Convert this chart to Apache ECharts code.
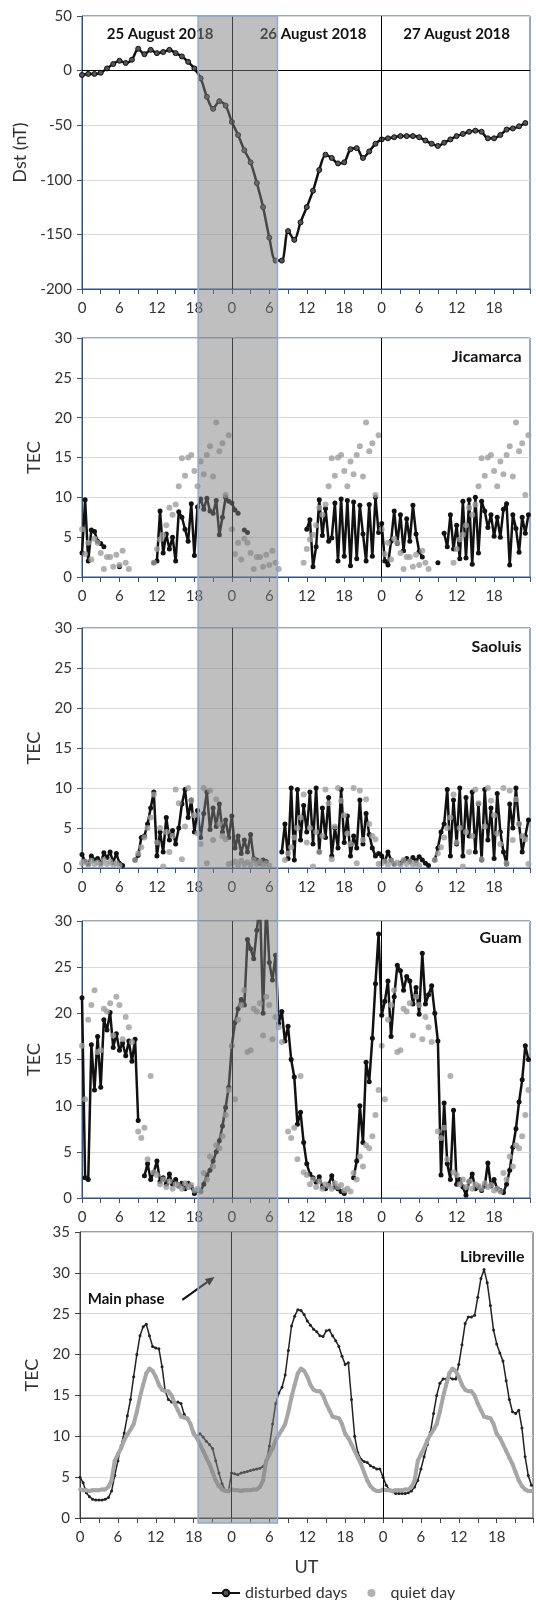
<!DOCTYPE html>
<html>
<head>
<meta charset="utf-8">
<script src="https://cdn.jsdelivr.net/npm/echarts@6/dist/echarts.min.js"></script>
<style>
  html, body { margin: 0; padding: 0; background: #fff; }
  #chart { width: 536px; height: 1600px; }
</style>
</head>
<body>
<div id="chart"></div>
<script>
// Dst index, hourly, 25-27 August 2018
var dstValues = [
  -4, -3, -3, -2, 2, 6, 9, 7, 10, 20, 15, 19, 16, 17, 19, 16, 13, 8, 2, -7, -24, -35, -28, -32,
  -47, -59, -73, -84, -103, -125, -153, -174, -174, -147, -155, -139, -125, -110, -91, -77, -80, -85, -84, -72, -71, -80, -74, -67,
  -63, -62, -61, -60, -60, -60, -61, -64, -67, -69, -66, -63, -60, -58, -56, -55, -56, -62, -62, -59, -54, -53, -51, -48
];

// TEC samples every half hour; quiet day = one day, disturbed = three days
var stepHours = 0.5;

var jicQuiet = [
  6.0, 2.9, 4.3, 2.2, 4.8, 4.3, 3.0, 1.0, 2.5, 2.5, 1.3, 2.8, 1.5, 3.3, 1.8, 1.0,
  null, null, null, null, null, null, null,
  1.8, 3.5, 4.7, 5.3, 6.5, 8.7, 7.8, 9.1, 11.4, 14.9, 12.7, 15.0, 15.3, 13.3, 11.4, 14.5, 12.9, 15.3, 16.4, 12.6, 19.4, 15.8, 16.8, 10.3, 17.8
];
var jicDisturbed = [
  3.0, 9.7, 2.0, 5.9, 5.7, 4.5, 4.2, 3.8,
  null, null, null, null, 1.3, null, null, null, null, null, null, null, null, null, null,
  1.8, 2.0, 8.3, 3.0, 5.4, 3.5, 5.0, 2.0, 8.2, 7.5, 6.0, 4.5, 9.2, 2.7, 8.8, 9.8, 8.5, 9.9, 8.3, 8.0, 9.6, 5.3, 7.5, 10.0, 9.5,
  9.3, 8.4, 8.0, null, 5.9, 5.6,
  null, null, null, null, null, null, null, null, null, null, null, null, null, null, null, null, null, null,
  6.0, 7.2, 1.3, 3.8, 9.7, 5.2, 8.6, 4.5, 4.9, 9.3, 2.0, 9.8, 2.6, 9.6, 1.4, 9.4, 2.3, 9.0, 5.4, 2.0, 9.1, 2.6, 10.0, 5.6,
  6.7, 2.0, 1.5, 4.5, 8.3, 4.2, 7.8, 3.3, 7.3, 4.5, 9.0, 5.4, 3.2, 2.5,
  null, null, null, null, 1.8, null,
  5.5, 3.8, 7.8, 3.5, 6.5, 2.3, 9.5, 2.4, 9.7, 1.6, 10.0, 3.0, 9.5, 8.3, 6.2, 7.8, 5.1, 7.5, 5.0, 8.5, 9.2, 1.5, 7.8, 6.1, 3.1, 7.5, 5.5, 7.8
];

var saoQuiet = [
  0.6, 0.8, 0.4, 0.9, 0.5, 0.7, 0.4, 1.0, 0.5, 0.8, 0.4, 0.6, 0.3,
  null, null, null, null,
  1.0, 1.8, 2.6, 3.8, 5.0, 6.3, 9.2, 3.2, 5.0, 0.2, 4.5, 2.0, 4.0, 9.8, 8.1, 1.1, 5.2, 10.0, 8.4,
  6.6, 4.3, 3.0, 10.0, 0.6, 9.7, 3.5, 8.6, 5.5, 4.0, 3.6, 0.5
];
var saoDisturbed = [
  1.7, 0.8, 0.5, 1.5, 1.0, 1.2, 0.6, 1.9, 1.3, 2.0, 0.7, 1.8, 0.6, 0.3,
  null, null, null,
  1.0, 1.6, 3.8, 4.0, 5.5, 7.5, 9.5, 1.5, 4.5, 2.0, 6.3, 3.5, 4.7, 3.0, 5.0, 8.0, 9.8, 6.3, 8.5, 4.5, 7.2, 3.8, 6.8, 9.5, 4.8, 7.5, 5.2, 8.0, 4.5, 6.0, 3.8,
  6.5, 2.5, 4.0, 1.8, 3.5, 2.0, 4.2, 1.2, 1.0, 0.6, 1.0, 0.8,
  null, null, null, null,
  2.0, 5.5, 1.2, 10.0, 1.0, 9.8, 3.5, 7.8, 4.5, 9.5, 3.0, 10.0, 2.0, 7.5, 3.8, 8.8, 1.5, 5.0, 2.5, 9.8, 3.2, 6.5, 1.5, 4.0, 2.5, 8.5, 3.0, 6.8, 4.2, 2.5, 1.5, 1.8,
  1.5, 0.8, 2.0, 1.0, 0.5, null, 0.6, 0.9, 1.2, 0.8, 1.3, 0.9, 1.4, 1.0, 0.6, 0.3,
  null,
  1.0, 2.5, 4.5, 5.5, 9.8, 1.5, 8.5, 3.0, 10.0, 1.5, 8.8, 4.0, 9.5, 2.0, 8.0, 1.0, 9.8, 3.5, 7.5, 1.2, 9.3, 4.5, 2.0, 0.5, 8.0, 5.0, 10.0, 5.5, 2.0, 4.0, 6.0
];

var guamQuiet = [
  16.5, 10.7, 19.3, 20.9, 22.5, 15.8, 16.0, 20.5, 20.2, 21.1, 17.6, 21.8, 20.9, 17.2, 19.6, 18.5, 16.9,
  null,
  7.2, 6.5, 7.6, 4.2, 13.2, 2.8, 2.5, 1.5, 2.0, 1.2, 1.8, 1.0, 1.5, 1.3, 1.0, 1.6, 1.2, 1.4, 0.8, 1.0, 0.7,
  2.7, 2.0, 4.5, 3.4, 5.7, 5.4, 6.7, 9.0, 11.7
];
var guamDisturbed = [
  21.7, 2.2, 2.0, 16.6, 11.7, 17.5, 12.0, 19.3, 18.2, 20.1, 16.3, 17.8, 16.0, 16.8, 15.4, 17.0, 14.8, 17.2, 8.4, null,
  2.4, 3.7, 2.0, 2.8, 4.0, 1.8, 2.2, 1.5, 2.6, 1.5, 2.0, 1.3, 1.6, 1.0, 1.6, 1.2, 0.5, 0.8, 0.7, 1.5, 2.5, 3.0, 4.0, 5.0, 6.2, 7.8, 9.8, 12.0,
  16.5, 19.0, 20.5, 21.5, 20.9, 28.0, 27.0, 25.9, 29.0, 32.0, 20.0, 32.0, 25.5, 23.6, 26.3, 18.9, 20.2, 17.0, 18.6, 15.0, 13.1, 8.0, 9.3, 6.0,
  3.7, 2.6, 2.2, 1.7, 2.3, 1.2, 1.0, 1.5, 2.4, 1.2, 1.0, 0.7, 0.5, null, null, 2.2, 4.0, 10.0, 6.0, 14.7, 12.6, 17.3, 23.2, 28.6,
  19.8, 21.3, 23.5, 17.5, 21.8, 25.2, 24.6, 22.5, 24.0, 23.5, 21.0, 22.8, 19.9, 26.5, 21.0, 22.0, 23.0, 20.0, 17.0, 2.5, 10.3, 3.7, 2.0, 9.5,
  1.5, 2.0, 1.2, 0.3, 1.8, 2.6, 1.0, 1.2, 0.8, 1.3, 3.8, 1.3, 2.0, 1.0, 0.8, 0.6, 1.5, 3.0, 5.5, 7.5, 10.4, 12.8, 16.5, 15.0
];

var lbvQuiet = [
  3.5, 3.4, 3.4, 3.3, 3.4, 3.4, 3.4, 3.5, 3.5, 3.8,
  4.6, 7.0, 7.8, 8.5, 9.5, 10.2, 10.8, 11.5, 13.0, 14.8,
  16.3, 17.7, 18.3, 18.0, 17.3, 16.3, 15.7, 15.5, 15.5, 15.0,
  14.0, 13.2, 12.4, 12.3, 12.2, 11.5, 10.3, 9.8, 9.0, 8.2,
  7.4, 6.6, 5.6, 4.6, 3.9, 3.5, 3.3, 3.3
];
var lbvDisturbed = [
  5.0, 4.3, 3.1, 2.6, 2.3, 2.2, 2.2, 2.2, 2.3, 2.5,
  3.3, 5.2, 7.0, 8.8, 10.4, 12.5, 14.5, 17.3, 20.0, 22.3,
  23.4, 23.7, 22.3, 21.0, 20.8, 20.7, 18.5, 15.5, 14.5, 14.2,
  14.0, 14.2, 14.0, 12.7, 12.1, 11.6, 10.6, 10.0, 10.3, 9.9,
  9.4, 9.0, 8.5, 7.0, 5.5, 4.2, 3.4, 3.2,
  5.5, 5.4, 5.3, 5.5, 5.6, 5.7, 5.8, 5.9, 6.0, 6.1,
  6.3, 7.0, 8.8, 11.5, 14.0, 15.3, 16.0, 17.5, 20.5, 23.5,
  24.7, 25.5, 25.4, 24.9, 24.1, 23.6, 23.1, 22.8, 22.3, 22.2,
  22.9, 23.0, 22.3, 21.7, 21.0, 19.8, 18.8, 19.0, 14.5, 10.0,
  8.0, 7.2, 6.9, 6.8, 6.4, 6.2, 6.0, 6.0,
  5.0, 4.0, 3.5, 3.2, 3.0, 3.0, 3.0, 3.0, 3.1, 3.3,
  3.8, 4.6, 6.0, 7.5, 9.0, 10.5, 12.8, 15.0, 16.5, 17.0,
  17.0, 17.2, 17.0, 17.0, 18.8, 21.2, 23.8, 24.6, 24.6, 24.8,
  27.0, 29.3, 30.4, 28.8, 26.0, 23.0, 21.3, 20.2, 19.2, 16.8,
  14.5, 13.0, 12.8, 13.2, 11.0, 7.5, 5.2, 4.0
];

var stationNames = ['Jicamarca', 'Saoluis', 'Guam', 'Libreville'];
var stationQuiet = [jicQuiet, saoQuiet, guamQuiet, lbvQuiet];
var stationDisturbed = [jicDisturbed, saoDisturbed, guamDisturbed, lbvDisturbed];
var dayLabels = ['25 August 2018', '26 August 2018', '27 August 2018'];
var dayBreaks = [24, 48];
var mainPhase = [18.6, 31.3];

var FONT = 'Lato, "Open Sans", sans-serif';
var blue = '#2f528f';
var dark = '#404040';

var grids = [
  { left: 82, width: 448, top: 16, height: 273 },
  { left: 82, width: 448, top: 338, height: 239 },
  { left: 82, width: 448, top: 628, height: 240 },
  { left: 82, width: 448, top: 921, height: 277 },
  { left: 80, width: 456, top: 1232, height: 286 }
];
var yRanges = [[-200, 50, 50], [0, 30, 5], [0, 30, 5], [0, 30, 5], [0, 35, 5]];

function toPairs(arr, offset) {
  return arr.map(function (v, i) { return [offset + i * stepHours, v === null ? '-' : v]; });
}
function quietDays(arr) {
  var out = [];
  for (var d = 0; d < 3; d++) out = out.concat(toPairs(arr, d * 24));
  return out;
}

var xAxes = [], yAxes = [], gridOpts = [];
grids.forEach(function (g, i) {
  var col = i < 4 ? blue : dark;
  gridOpts.push({ left: g.left, width: g.width, top: g.top, height: g.height, show: true,
    borderColor: col, borderWidth: 1, backgroundColor: 'transparent' });
  xAxes.push({
    type: 'value', gridIndex: i, min: 0, max: 71.75, interval: 3,
    axisLine: { show: true, onZero: false, lineStyle: { color: col, width: 1 } },
    axisTick: { show: true, length: 5, lineStyle: { color: col } },
    axisLabel: { margin: 12, fontSize: 15, color: '#333', fontFamily: FONT,
      formatter: function (v) { return v % 6 === 0 ? String(v % 24) : ''; } },
    splitLine: { show: false },
    name: i === 4 ? 'UT' : '', nameLocation: 'middle', nameGap: 40,
    nameTextStyle: { fontSize: 18, color: '#333', fontFamily: FONT }
  });
  yAxes.push({
    type: 'value', gridIndex: i, min: yRanges[i][0], max: yRanges[i][1], interval: yRanges[i][2],
    axisLine: { show: true, lineStyle: { color: col, width: 1 } },
    axisTick: { show: true, length: 5, lineStyle: { color: col } },
    axisLabel: { margin: 10, fontSize: 15, color: '#333', fontFamily: FONT },
    splitLine: { show: true, lineStyle: { color: '#d9d9d9', width: 1 } },
    name: i === 0 ? 'Dst (nT)' : 'TEC', nameLocation: 'middle', nameGap: i === 0 ? 50 : 39,
    nameTextStyle: { fontSize: 18, color: '#333', fontFamily: FONT }
  });
});

var dayLineData = dayBreaks.map(function (h) { return { xAxis: h }; });
var series = [{
  name: 'disturbed days', type: 'line', xAxisIndex: 0, yAxisIndex: 0,
  data: dstValues.map(function (v, h) { return [h, v]; }),
  smooth: 0.3, symbol: 'circle', symbolSize: 5, showAllSymbol: true,
  lineStyle: { color: '#111', width: 2.5 },
  itemStyle: { color: '#555', borderColor: '#111', borderWidth: 1 },
  markLine: { silent: true, symbol: 'none', label: { show: false },
    lineStyle: { color: '#000', width: 1, type: 'solid' },
    data: dayLineData.concat([{ yAxis: 0 }]) },
  z: 3
}];

stationNames.forEach(function (name, k) {
  var g = k + 1;
  var isLbv = k === 3;
  series.push({
    name: 'disturbed days', type: 'line', xAxisIndex: g, yAxisIndex: g,
    data: toPairs(stationDisturbed[k], 0),
    symbol: 'circle', symbolSize: isLbv ? 3 : 5, showAllSymbol: true, connectNulls: false,
    lineStyle: { color: isLbv ? '#222' : '#111', width: isLbv ? 1.5 : 2.5 },
    itemStyle: { color: isLbv ? '#222' : '#111' },
    markLine: { silent: true, symbol: 'none', label: { show: false },
      lineStyle: { color: '#000', width: 1, type: 'solid' }, data: dayLineData },
    z: 3
  });
  if (isLbv) {
    series.push({
      name: 'quiet day', type: 'line', xAxisIndex: g, yAxisIndex: g,
      data: quietDays(stationQuiet[k]),
      symbol: 'circle', symbolSize: 4, showAllSymbol: true,
      lineStyle: { color: '#a6a6a6', width: 4 },
      itemStyle: { color: '#a6a6a6' }, z: 4
    });
  } else {
    series.push({
      name: 'quiet day', type: 'scatter', xAxisIndex: g, yAxisIndex: g,
      data: quietDays(stationQuiet[k]),
      symbol: 'circle', symbolSize: 6,
      itemStyle: { color: '#9d9d9d' }, z: 4
    });
  }
});

var option = {
  animation: false,
  backgroundColor: '#fff',
  textStyle: { fontFamily: FONT },
  grid: gridOpts,
  xAxis: xAxes,
  yAxis: yAxes,
  legend: {
    left: 206, top: 1580, itemWidth: 28, itemHeight: 8, itemGap: 20,
    textStyle: { fontSize: 16, color: '#333', fontFamily: FONT },
    data: [{ name: 'disturbed days' }, { name: 'quiet day', icon: 'circle' }]
  },
  series: series
};

var chart = echarts.init(document.getElementById('chart'));
chart.setOption(option);

function toPx(g, x, y) { return chart.convertToPixel({ gridIndex: g }, [x, y]); }
function label(g, x, y, text, align, size) {
  var p = toPx(g, x, y);
  return { type: 'text', z: 50, x: p[0], y: p[1], silent: true,
    style: { text: text, fill: '#111', font: 'bold ' + size + 'px ' + FONT,
      textAlign: align, textVerticalAlign: 'middle', align: align, verticalAlign: 'middle' } };
}

var graphics = [];
var dayCenters = [12.5, 37, 60];
dayLabels.forEach(function (t, i) { graphics.push(label(0, dayCenters[i], 33.5, t, 'center', 15)); });
var stationLabelY = [27.6, 27.6, 28.2, 31.9];
stationNames.forEach(function (t, k) { graphics.push(label(k + 1, 70.4, stationLabelY[k], t, 'right', 16)); });
graphics.push(label(4, 7.3, 26.8, 'Main phase', 'center', 15));

// arrow pointing at the shaded main phase
var a0 = toPx(4, 16.2, 26.7), a1 = toPx(4, 21.3, 29.5);
var dx = a1[0] - a0[0], dy = a1[1] - a0[1], len = Math.sqrt(dx * dx + dy * dy);
var ux = dx / len, uy = dy / len, hl = 9, hw = 4;
var base = [a1[0] - ux * hl, a1[1] - uy * hl];
graphics.push({ type: 'line', z: 50, silent: true,
  shape: { x1: a0[0], y1: a0[1], x2: base[0], y2: base[1] },
  style: { stroke: '#111', lineWidth: 2 } });
graphics.push({ type: 'polygon', z: 50, silent: true,
  shape: { points: [a1, [base[0] - uy * hw, base[1] + ux * hw], [base[0] + uy * hw, base[1] - ux * hw]] },
  style: { fill: '#111' } });

// shaded main phase band across all panels
var b0 = toPx(0, mainPhase[0], 50), b1 = toPx(0, mainPhase[1], 50), bBot = toPx(4, 0, 0);
graphics.push({ type: 'rect', z: 100, silent: true,
  shape: { x: b0[0], y: b0[1], width: b1[0] - b0[0], height: bBot[1] + 5 - b0[1] },
  style: { fill: 'rgba(127,127,127,0.5)', stroke: '#8eaad0', lineWidth: 1.5 } });

chart.setOption({ graphic: graphics });
window.onresize = function () { chart.resize(); };
</script>
</body>
</html>
